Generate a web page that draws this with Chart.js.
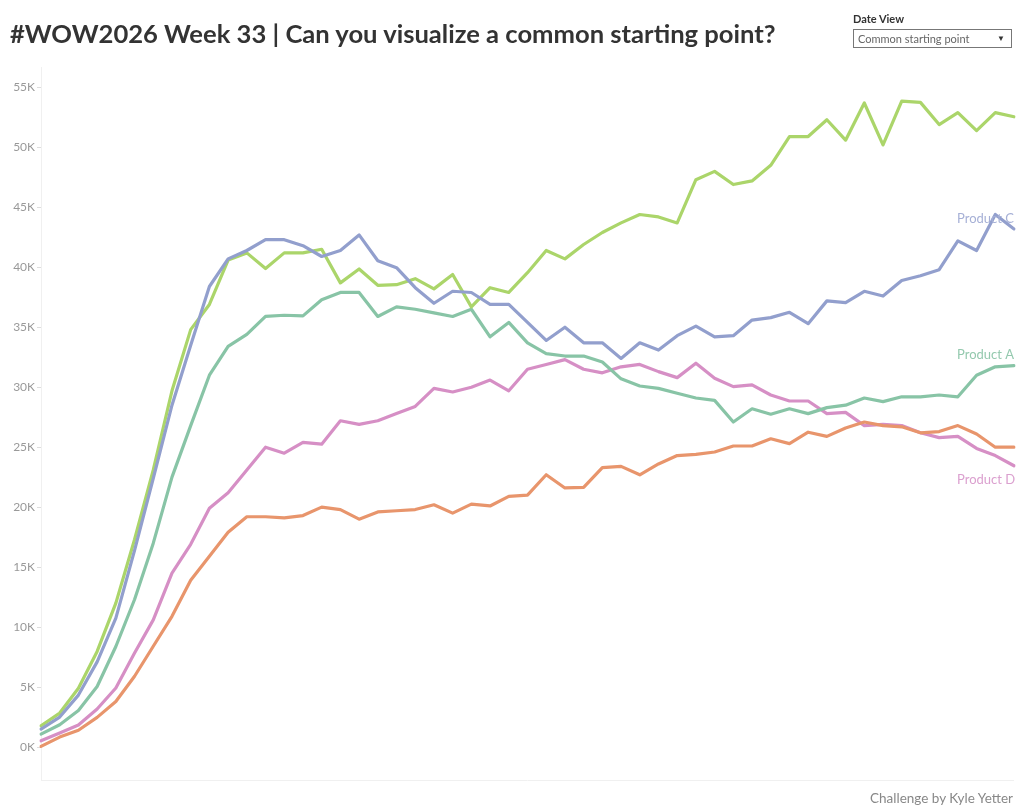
<!DOCTYPE html>
<html>
<head>
<meta charset="utf-8">
<script src="https://cdn.jsdelivr.net/npm/chart.js@4"></script>
<style>
  body { margin: 0; background: #fff; font-family: Lato, 'Noto Sans', sans-serif; }
  #wrap { position: relative; width: 1024px; height: 812px; overflow: hidden; }
  #title { position: absolute; left: 10px; top: 18px; font-size: 25.6px; font-weight: bold; color: #333; white-space: nowrap; }
  #ddLabel { position: absolute; left: 853px; top: 12px; font-size: 11px; font-weight: bold; color: #333; }
  #dd { position: absolute; left: 853px; top: 29px; width: 157px; height: 17px; border: 1px solid #777; font-size: 11px; color: #666; }
  #dd span { position: absolute; left: 4px; top: 2px; }
  #dd b { position: absolute; right: 6px; top: 3px; font-size: 8px; color: #333; }
  #footer { position: absolute; right: 11px; top: 790px; font-size: 13.5px; color: #888; }
  canvas { position: absolute; left: 0; top: 0; }
</style>
</head>
<body>
<div id="wrap">
  <canvas id="myChart" width="1024" height="812"></canvas>
  <div id="title">#WOW2026 Week 33 | Can you visualize a common starting point?</div>
  <div id="ddLabel">Date View</div>
  <div id="dd"><span>Common starting point</span><b>&#9660;</b></div>
  <div id="footer">Challenge by Kyle Yetter</div>
</div>
<script>
// Weeks since the common starting point
let weeks = [1, 2, 3, 4, 5, 6, 7, 8, 9, 10, 11, 12, 13, 14, 15, 16, 17, 18, 19, 20,
  21, 22, 23, 24, 25, 26, 27, 28, 29, 30, 31, 32, 33, 34, 35, 36, 37, 38, 39, 40,
  41, 42, 43, 44, 45, 46, 47, 48, 49, 50, 51, 52, 53];

// Sales per product
let productA = [1080, 1860, 3050, 5050, 8380, 12300, 17000, 22500, 26800, 31000,
  33400, 34400, 35900, 36000, 35950, 37300, 37900, 37900, 35900, 36700,
  36500, 36200, 35900, 36500, 34200, 35400, 33700, 32800, 32600, 32600,
  32100, 30700, 30100, 29900, 29500, 29100, 28900, 27100, 28200, 27750,
  28200, 27800, 28300, 28500, 29100, 28800, 29200, 29200, 29350, 29200,
  31000, 31700, 31800];
let productB = [1770, 2830, 4900, 7970, 12000, 17300, 23100, 29700, 34800, 36900,
  40600, 41200, 39900, 41200, 41200, 41500, 38700, 39860, 38500, 38550,
  39050, 38200, 39400, 36700, 38300, 37900, 39550, 41400, 40700, 41900,
  42900, 43700, 44400, 44200, 43700, 47300, 48000, 46900, 47200, 48500,
  50900, 50900, 52300, 50600, 53700, 50200, 53850, 53750, 51900, 52900,
  51400, 52900, 52550];
let productC = [1500, 2500, 4330, 7100, 10750, 16400, 22400, 28500, 33500, 38400,
  40700, 41400, 42300, 42300, 41800, 40900, 41400, 42700, 40550, 39970,
  38300, 37000, 38000, 37900, 36900, 36900, 35400, 33900, 35000, 33700,
  33700, 32400, 33700, 33100, 34300, 35100, 34200, 34300, 35600, 35800,
  36250, 35300, 37200, 37050, 38000, 37600, 38900, 39300, 39800, 42200,
  41400, 44400, 43200];
let productD = [520, 1170, 1830, 3170, 4920, 7830, 10600, 14500, 16900, 19900,
  21200, 23100, 25000, 24500, 25400, 25250, 27200, 26900, 27200, 27800,
  28400, 29900, 29600, 30000, 30600, 29700, 31500, 31900, 32300, 31500,
  31200, 31700, 31900, 31300, 30800, 32000, 30750, 30050, 30200, 29350,
  28850, 28850, 27800, 27900, 26800, 26900, 26800, 26200, 25800, 25900,
  24900, 24300, 23450];
let productE = [50, 830, 1400, 2470, 3800, 5900, 8400, 10900, 13900, 15900,
  17900, 19200, 19200, 19100, 19300, 20000, 19800, 19000, 19600, 19700,
  19800, 20200, 19500, 20250, 20100, 20900, 21000, 22700, 21600, 21650,
  23300, 23400, 22700, 23600, 24300, 24400, 24600, 25100, 25100, 25700,
  25300, 26250, 25900, 26600, 27100, 26800, 26700, 26200, 26300, 26800,
  26100, 25000, 25000];

// Y axis ticks
let tickValues = [0, 5000, 10000, 15000, 20000, 25000, 30000, 35000, 40000, 45000, 50000, 55000];
let tickLabels = ['0K', '5K', '10K', '15K', '20K', '25K', '30K', '35K', '40K', '45K', '50K', '55K'];

// Draws product names at the end of the lines
const endLabels = {
    id: 'endLabels',
    afterDatasetsDraw(chart) {
        const ctx = chart.ctx;
        ctx.save();
        ctx.font = '13px Lato, "Noto Sans", sans-serif';
        ctx.textAlign = 'left';
        ctx.textBaseline = 'middle';
        chart.data.datasets.forEach(function(ds) {
            if (!ds.endLabel) return;
            const last = ds.data.length - 1;
            const y = chart.scales.y.getPixelForValue(ds.data[last]) + ds.endLabel.dy;
            ctx.fillStyle = ds.endLabel.color;
            ctx.fillText(ds.label, chart.chartArea.right - 57, y);
        });
        // faint bottom axis line
        ctx.strokeStyle = '#f0f0f0';
        ctx.lineWidth = 1;
        ctx.beginPath();
        ctx.moveTo(chart.chartArea.left, chart.chartArea.bottom + 0.5);
        ctx.lineTo(chart.chartArea.right, chart.chartArea.bottom + 0.5);
        ctx.stroke();
        ctx.restore();
    }
};

const ctx = document.getElementById('myChart').getContext('2d');
const myChart = new Chart(ctx, {
    type: 'line',
    data: {
        labels: weeks,
        datasets: [
            { label: 'Product D', data: productD, borderColor: '#d68fc5', order: 5,
              endLabel: { color: '#dba0cf', dy: 14 } },
            { label: 'Product A', data: productA, borderColor: '#88c4a6', order: 4,
              endLabel: { color: '#94c9ae', dy: -11 } },
            { label: 'Product B', data: productB, borderColor: '#abd56a', order: 3 },
            { label: 'Product C', data: productC, borderColor: '#929fcd', order: 2,
              endLabel: { color: '#a6b0d6', dy: -10 } },
            { label: 'Product E', data: productE, borderColor: '#e8956c', order: 1 }
        ]
    },
    options: {
        responsive: false,
        animation: false,
        layout: { autoPadding: false, padding: { top: 67, bottom: 32, left: 0, right: 10 } },
        elements: {
            line: { borderWidth: 3.2, tension: 0, borderCapStyle: 'round', borderJoinStyle: 'round' },
            point: { radius: 0 }
        },
        plugins: {
            legend: { display: false },
            tooltip: { enabled: false }
        },
        scales: {
            x: { display: false, offset: false },
            y: {
                min: -2750,
                max: 56700,
                afterBuildTicks: function(scale) {
                    scale.ticks = tickValues.map(function(v) { return { value: v }; });
                },
                afterFit: function(scale) { scale.width = 41; },
                ticks: {
                    color: '#999',
                    font: { family: 'Lato, "Noto Sans", sans-serif', size: 12 },
                    padding: 2,
                    callback: function(value, index) { return tickLabels[index]; }
                },
                grid: { drawOnChartArea: false, drawTicks: true, tickLength: 4, color: '#ddd' },
                border: { display: true, color: '#f0f0f0' }
            }
        }
    },
    plugins: [endLabels]
});
</script>
</body>
</html>
